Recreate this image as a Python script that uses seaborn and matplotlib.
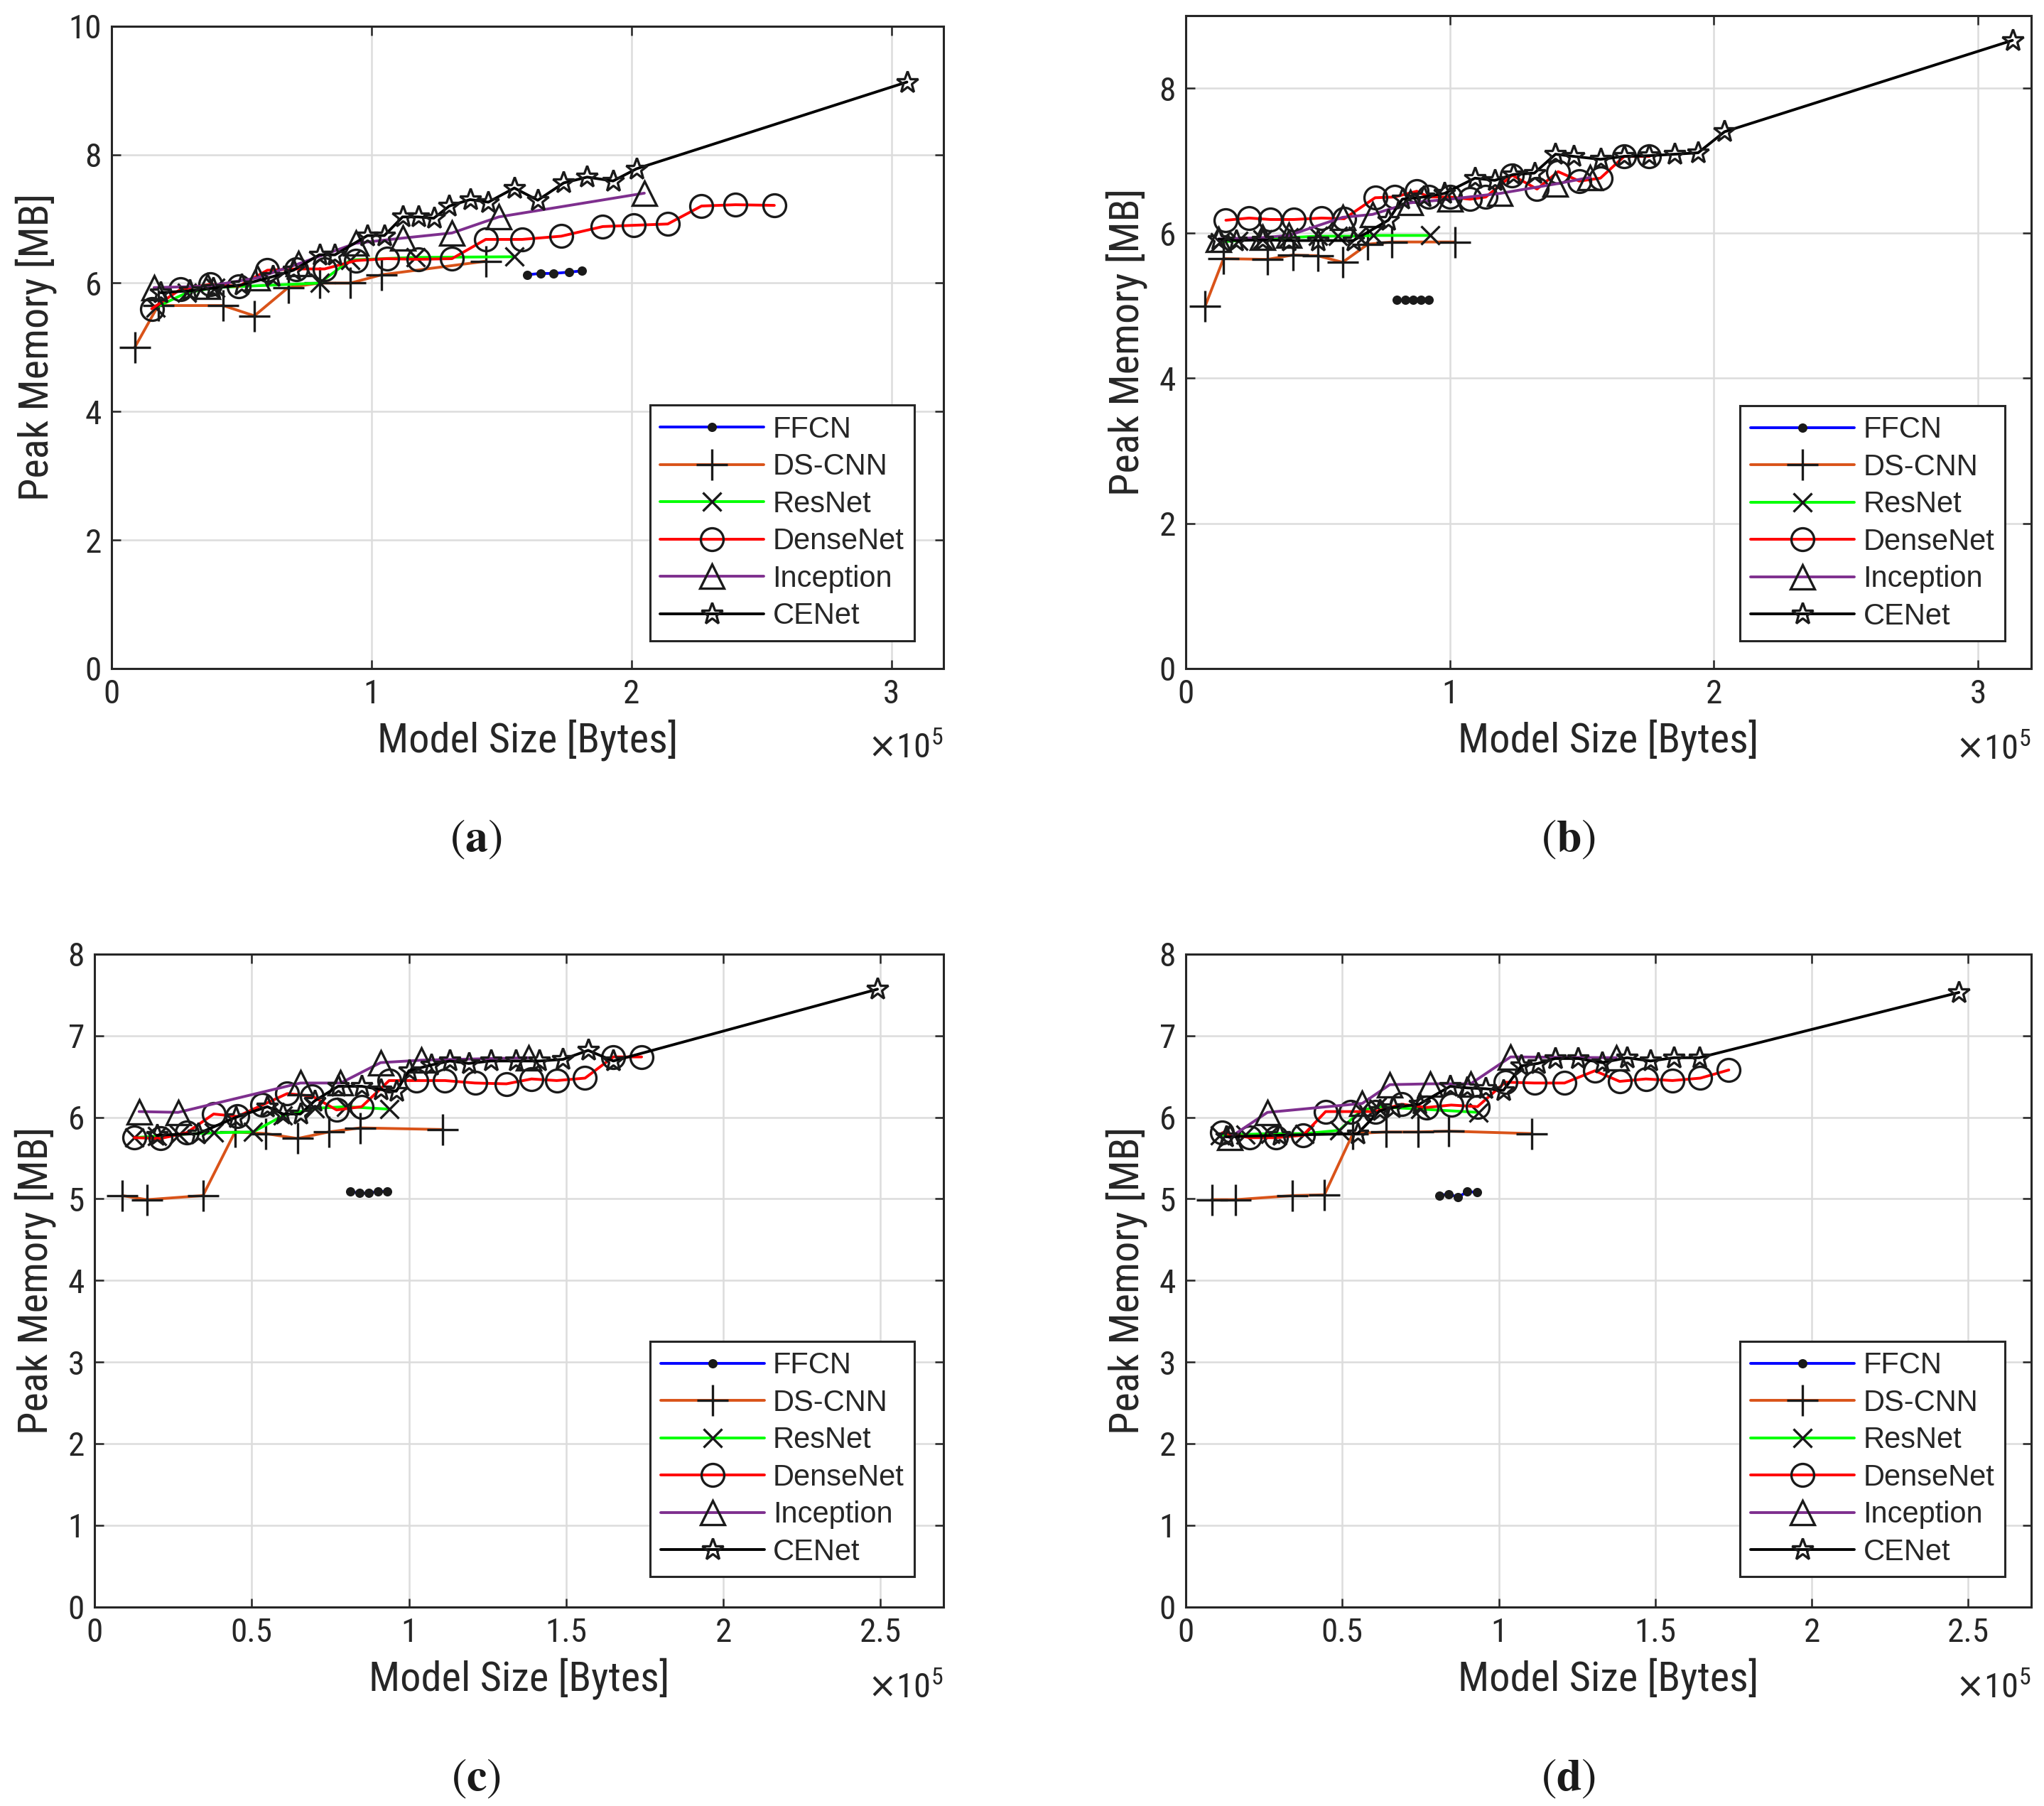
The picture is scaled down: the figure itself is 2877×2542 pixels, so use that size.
import matplotlib
matplotlib.use('Agg')
import matplotlib.pyplot as plt
from matplotlib import font_manager
import seaborn as sns
import pandas as pd
from matplotlib.ticker import MultipleLocator, FormatStrFormatter

sns.set_theme(style='whitegrid')

# pick a narrow sans for axis text if one is around
installed = {f.name for f in font_manager.fontManager.ttflist}
narrow = [f for f in ['Liberation Sans Narrow', 'Roboto Condensed', 'Arial Narrow'] if f in installed]
stretched = {(f.name, f.stretch) for f in font_manager.fontManager.ttflist}
if narrow:
    AXIS_FONT = dict(family=[narrow[0], 'DejaVu Sans'])
elif ('DejaVu Sans', 'condensed') in stretched or ('DejaVu Sans', 'semi-condensed') in stretched:
    AXIS_FONT = dict(family=['DejaVu Sans'], stretch='condensed')
else:
    AXIS_FONT = dict(family=['Roboto', 'DejaVu Sans'])
plt.rcParams['font.family'] = AXIS_FONT['family']
if 'stretch' in AXIS_FONT:
    plt.rcParams['font.stretch'] = AXIS_FONT['stretch']

# Model size in units of 1e5 bytes, peak memory in MB

# ---- panel (a)
A_FFCN_X = [1.60, 1.65, 1.70, 1.76, 1.81]
A_FFCN_Y = [6.13, 6.15, 6.15, 6.17, 6.19]
A_DSCNN_X = [0.09, 0.18, 0.43, 0.55, 0.68, 0.80, 0.92, 1.04, 1.44]
A_DSCNN_Y = [5.00, 5.65, 5.65, 5.49, 5.93, 6.00, 6.00, 6.13, 6.34]
A_RESNET_X = [0.17, 0.29, 0.40, 0.80, 0.92, 1.17, 1.55]
A_RESNET_Y = [5.62, 5.85, 5.93, 6.00, 6.36, 6.40, 6.41]
A_DENSE_X = [0.155, 0.265, 0.38, 0.49, 0.60, 0.71, 0.82, 0.94, 1.06, 1.18,
             1.31, 1.44, 1.58, 1.73, 1.89, 2.01, 2.14, 2.27, 2.40, 2.55]
A_DENSE_Y = [5.60, 5.90, 5.98, 5.95, 6.20, 6.22, 6.22, 6.35, 6.38, 6.37,
             6.38, 6.68, 6.68, 6.73, 6.88, 6.90, 6.92, 7.20, 7.22, 7.21]
A_INCEP_X = [0.164, 0.37, 0.56, 0.72, 0.94, 1.12, 1.31, 1.49, 2.05]
A_INCEP_Y = [5.93, 5.95, 6.08, 6.30, 6.62, 6.70, 6.78, 7.03, 7.40]
A_CENET_X = [0.19, 0.30, 0.39, 0.50, 0.62, 0.70, 0.80, 0.86, 0.985, 1.05, 1.12, 1.18,
             1.24, 1.30, 1.38, 1.45, 1.55, 1.64, 1.74, 1.83, 1.93, 2.02, 3.06]
A_CENET_Y = [5.85, 5.88, 5.92, 5.97, 6.10, 6.20, 6.44, 6.44, 6.74, 6.74, 7.03, 7.03,
             7.01, 7.20, 7.30, 7.26, 7.48, 7.29, 7.56, 7.65, 7.59, 7.78, 9.13]

# ---- panel (b)
B_FFCN_X = [0.80, 0.83, 0.86, 0.89, 0.92]
B_FFCN_Y = [5.08, 5.08, 5.08, 5.08, 5.08]
B_DSCNN_X = [0.073, 0.143, 0.31, 0.405, 0.50, 0.594, 0.69, 0.78, 1.02]
B_DSCNN_Y = [4.99, 5.65, 5.64, 5.70, 5.69, 5.60, 5.85, 5.88, 5.88]
B_RESNET_X = [0.13, 0.20, 0.29, 0.39, 0.50, 0.576, 0.65, 0.71, 0.926]
B_RESNET_Y = [5.88, 5.90, 5.92, 5.94, 5.96, 5.96, 5.96, 5.97, 5.97]
B_DENSE_X = [0.152, 0.24, 0.32, 0.41, 0.514, 0.60, 0.717, 0.79, 0.875, 0.92,
             1.00, 1.076, 1.136, 1.236, 1.33, 1.41, 1.49, 1.57, 1.66, 1.755]
B_DENSE_Y = [6.18, 6.21, 6.19, 6.19, 6.21, 6.20, 6.49, 6.50, 6.58, 6.50,
             6.50, 6.47, 6.50, 6.80, 6.61, 6.85, 6.72, 6.76, 7.06, 7.06]
B_INCEP_X = [0.125, 0.29, 0.39, 0.594, 0.707, 0.85, 1.00, 1.19, 1.40, 1.53]
B_INCEP_Y = [5.92, 5.94, 5.97, 6.22, 6.26, 6.42, 6.47, 6.55, 6.68, 6.77]
B_CENET_X = [0.125, 0.19, 0.29, 0.39, 0.50, 0.635, 0.767, 0.82, 0.90, 0.98, 1.095, 1.17,
             1.24, 1.32, 1.40, 1.47, 1.57, 1.66, 1.755, 1.85, 1.94, 2.04, 3.13]
B_CENET_Y = [5.92, 5.90, 5.91, 5.90, 5.90, 5.90, 6.18, 6.47, 6.50, 6.55, 6.76, 6.73,
             6.81, 6.83, 7.09, 7.06, 7.02, 7.06, 7.07, 7.09, 7.11, 7.40, 8.66]

# ---- panel (c)
C_FFCN_X = [0.813, 0.843, 0.873, 0.902, 0.932]
C_FFCN_Y = [5.09, 5.07, 5.07, 5.09, 5.09]
C_DSCNN_X = [0.089, 0.167, 0.345, 0.447, 0.545, 0.646, 0.745, 0.845, 1.108]
C_DSCNN_Y = [5.04, 4.99, 5.04, 5.82, 5.80, 5.74, 5.82, 5.87, 5.85]
C_RESNET_X = [0.127, 0.20, 0.27, 0.38, 0.504, 0.60, 0.70, 0.80, 0.937]
C_RESNET_Y = [5.75, 5.77, 5.79, 5.81, 5.82, 6.02, 6.11, 6.13, 6.10]
C_DENSE_X = [0.127, 0.21, 0.293, 0.379, 0.455, 0.534, 0.613, 0.692, 0.77, 0.85,
             0.937, 1.024, 1.115, 1.21, 1.31, 1.39, 1.47, 1.56, 1.65, 1.74]
C_DENSE_Y = [5.75, 5.74, 5.81, 6.04, 6.01, 6.15, 6.29, 6.26, 6.09, 6.13,
             6.45, 6.45, 6.45, 6.42, 6.41, 6.47, 6.45, 6.48, 6.74, 6.74]
C_INCEP_X = [0.142, 0.266, 0.655, 0.783, 0.91, 1.04, 1.38]
C_INCEP_Y = [6.07, 6.06, 6.42, 6.42, 6.67, 6.70, 6.73]
C_CENET_X = [0.20, 0.33, 0.45, 0.55, 0.60, 0.655, 0.70, 0.775, 0.85, 0.91, 0.96,
             1.00, 1.07, 1.13, 1.19, 1.26, 1.34, 1.415, 1.49, 1.57, 1.65, 2.49]
C_CENET_Y = [5.78, 5.80, 6.00, 6.13, 6.04, 6.04, 6.20, 6.38, 6.38, 6.34, 6.32,
             6.57, 6.64, 6.69, 6.66, 6.69, 6.69, 6.69, 6.71, 6.82, 6.69, 7.57]

# ---- panel (d)
D_FFCN_X = [0.81, 0.84, 0.87, 0.90, 0.93]
D_FFCN_Y = [5.04, 5.06, 5.02, 5.09, 5.08]
D_DSCNN_X = [0.083, 0.159, 0.341, 0.443, 0.534, 0.64, 0.742, 0.84, 1.106]
D_DSCNN_Y = [4.99, 4.99, 5.04, 5.05, 5.80, 5.82, 5.82, 5.83, 5.80]
D_RESNET_X = [0.11, 0.19, 0.27, 0.38, 0.49, 0.56, 0.61, 0.75, 0.936]
D_RESNET_Y = [5.78, 5.79, 5.80, 5.80, 5.84, 6.08, 6.13, 6.10, 6.06]
D_DENSE_X = [0.117, 0.205, 0.288, 0.375, 0.447, 0.527, 0.606, 0.69, 0.769, 0.848,
             0.932, 1.021, 1.114, 1.21, 1.307, 1.386, 1.47, 1.555, 1.644, 1.735]
D_DENSE_Y = [5.81, 5.75, 5.75, 5.78, 6.07, 6.07, 6.07, 6.16, 6.12, 6.15,
             6.13, 6.43, 6.42, 6.42, 6.57, 6.44, 6.47, 6.45, 6.48, 6.58]
D_INCEP_X = [0.14, 0.261, 0.564, 0.652, 0.78, 0.91, 1.038, 1.375]
D_INCEP_Y = [5.75, 6.06, 6.17, 6.40, 6.41, 6.41, 6.74, 6.73]
D_CENET_X = [0.13, 0.30, 0.549, 0.62, 0.663, 0.746, 0.845, 0.90, 0.958, 1.015,
             1.072, 1.125, 1.18, 1.254, 1.33, 1.41, 1.485, 1.56, 1.64, 2.47]
D_CENET_Y = [5.76, 5.78, 5.80, 6.08, 6.12, 6.16, 6.38, 6.36, 6.35, 6.33,
             6.63, 6.66, 6.72, 6.72, 6.67, 6.73, 6.69, 6.73, 6.73, 7.53]

MODELS = ['FFCN', 'DS-CNN', 'ResNet', 'DenseNet', 'Inception', 'CENet']
PANEL_LABELS = ['a', 'b', 'c', 'd']

styles = {
    'FFCN': dict(color='#0000FF', marker='o', markersize=7, markerfacecolor='k'),
    'DS-CNN': dict(color='#D95319', marker='+', markersize=32, markerfacecolor='none'),
    'ResNet': dict(color='#00FF00', marker='x', markersize=19, markerfacecolor='none'),
    'DenseNet': dict(color='#FF0000', marker='o', markersize=23, markerfacecolor='none'),
    'Inception': dict(color='#7E2F8E', marker='^', markersize=25, markerfacecolor='none'),
    'CENet': dict(color='#000000', marker='*', markersize=23, markerfacecolor='none'),
}

panels = [
    [(A_FFCN_X, A_FFCN_Y), (A_DSCNN_X, A_DSCNN_Y), (A_RESNET_X, A_RESNET_Y),
     (A_DENSE_X, A_DENSE_Y), (A_INCEP_X, A_INCEP_Y), (A_CENET_X, A_CENET_Y)],
    [(B_FFCN_X, B_FFCN_Y), (B_DSCNN_X, B_DSCNN_Y), (B_RESNET_X, B_RESNET_Y),
     (B_DENSE_X, B_DENSE_Y), (B_INCEP_X, B_INCEP_Y), (B_CENET_X, B_CENET_Y)],
    [(C_FFCN_X, C_FFCN_Y), (C_DSCNN_X, C_DSCNN_Y), (C_RESNET_X, C_RESNET_Y),
     (C_DENSE_X, C_DENSE_Y), (C_INCEP_X, C_INCEP_Y), (C_CENET_X, C_CENET_Y)],
    [(D_FFCN_X, D_FFCN_Y), (D_DSCNN_X, D_DSCNN_Y), (D_RESNET_X, D_RESNET_Y),
     (D_DENSE_X, D_DENSE_Y), (D_INCEP_X, D_INCEP_Y), (D_CENET_X, D_CENET_Y)],
]

# axes rectangles [left, bottom, width, height] in figure fractions
rects = [
    [0.0545, 0.6299, 0.4070, 0.3556],
    [0.5801, 0.6299, 0.4135, 0.3614],
    [0.0462, 0.1103, 0.4154, 0.3614],
    [0.5801, 0.1103, 0.4135, 0.3614],
]
xlims = [3.2, 3.2, 2.7, 2.7]
xsteps = [1, 1, 0.5, 0.5]
ylims = [10, 9, 8, 8]
ysteps = [2, 2, 1, 1]
legend_anchor = [(0.965, 0.043), (0.969, 0.042), (0.966, 0.046), (0.969, 0.046)]
label_pos = [(0.2327, 0.5356), (0.7673, 0.5356), (0.2327, 0.0152), (0.7673, 0.0152)]

fig = plt.figure(figsize=(28.77, 25.42), dpi=100)
fig.patch.set_facecolor('white')

for i, series in enumerate(panels):
    ax = fig.add_axes(rects[i])
    ax.set_facecolor('white')
    rows = []
    for name, (xs, ys) in zip(MODELS, series):
        for x, y in zip(xs, ys):
            rows.append({'model': name, 'size': x, 'mem': y})
    df = pd.DataFrame(rows)

    for name in MODELS:
        sub = df[df['model'] == name]
        st = styles[name]
        sns.lineplot(data=sub, x='size', y='mem', ax=ax, sort=False, estimator=None,
                     color=st['color'], linewidth=2.8, marker=st['marker'],
                     markersize=st['markersize'], markerfacecolor=st['markerfacecolor'],
                     markeredgecolor='k', markeredgewidth=2.4, label=name)

    ax.set_xlim(0, xlims[i])
    ax.set_ylim(0, ylims[i])
    ax.xaxis.set_major_locator(MultipleLocator(xsteps[i]))
    ax.yaxis.set_major_locator(MultipleLocator(ysteps[i]))
    ax.xaxis.set_major_formatter(FormatStrFormatter('%g'))
    ax.yaxis.set_major_formatter(FormatStrFormatter('%g'))
    ax.grid(True, color='#dcdcdc', linewidth=1.8)
    ax.tick_params(axis='both', which='major', direction='in', length=9, width=1.8,
                   colors='#262626', labelsize=34, top=True, right=True,
                   bottom=True, left=True, pad=10)
    for sp in ax.spines.values():
        sp.set_visible(True)
        sp.set_color('#262626')
        sp.set_linewidth(2.2)

    ax.set_xlabel('Model Size [Bytes]', fontsize=42, color='#262626', labelpad=10)
    ax.set_ylabel('Peak Memory [MB]', fontsize=42, color='#262626', labelpad=12)

    ax.text(1.0, -0.100, r'$\times\mathregular{10}^{\mathregular{5}}$', transform=ax.transAxes,
            ha='right', va='top', fontsize=35, color='#262626')

    leg = ax.legend(loc='lower right', bbox_to_anchor=legend_anchor[i], borderaxespad=0,
                    fancybox=False, framealpha=1, edgecolor='#262626',
                    prop={'family': ['Liberation Sans', 'DejaVu Sans'], 'size': 30},
                    handlelength=3.5, handletextpad=0.3, labelspacing=0.3,
                    borderpad=0.35)
    leg.get_frame().set_linewidth(2.2)

    fig.text(label_pos[i][0], label_pos[i][1], r'$(\mathbf{%s})$' % PANEL_LABELS[i],
             math_fontfamily='stix', fontsize=46, ha='center', va='center', color='k')

fig.savefig('out.png', dpi=100, facecolor='white')
